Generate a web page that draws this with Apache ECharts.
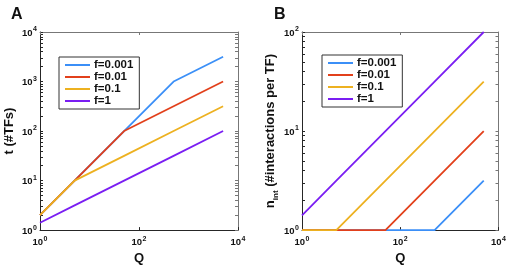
<!DOCTYPE html>
<html>
<head>
<meta charset="utf-8">
<script src="https://cdn.jsdelivr.net/npm/echarts@6/dist/echarts.min.js"></script>
<style>html,body{margin:0;padding:0;background:#fff}#c{width:509px;height:270px}</style>
</head>
<body>
<div id="c"></div>
<script>
// Data (kink points; lines are straight on log-log between them)
const Q = [1, 5, 50, 500, 5000];
const seriesNames = ['f=0.001', 'f=0.01', 'f=0.1', 'f=1'];
// Panel A: t (#TFs)
const tA_f0001 = [2, 10, 100, 1000, 3162];
const tA_f001  = [2, 10, 100, 316, 1000];
const tA_f01   = [2, 10, 31.6, 100, 316];
const tA_f1    = [1.41, 3.16, 10, 31.6, 100];
// Panel B: n_int (#interactions per TF)
const nB_f0001 = [1, 1, 1, 1, 3.16];
const nB_f001  = [1, 1, 1, 3.16, 10];
const nB_f01   = [1, 1, 3.16, 10, 31.6];
const nB_f1    = [1.41, 3.16, 10, 31.6, 100];
const colors = ['#3B8FF7', '#E2401B', '#EDB120', '#7A1EF2'];
// tick labels
const xTicks = [1, 100, 10000];
const yTicksA = [1, 10, 100, 1000, 10000];
const yTicksB = [1, 10, 100];

function minorTicks(maxExp) {
  const out = [];
  for (let e = 0; e < maxExp; e++) for (let m = 1; m <= 9; m++) out.push(m * Math.pow(10, e));
  out.push(Math.pow(10, maxExp));
  return out;
}
const fmt = v => '{b|10}{s|' + Math.round(Math.log10(v)) + '}';
const labRich = {
  b: {fontSize: 9.5, fontWeight: 'bold', color: '#111', fontFamily: 'Liberation Sans', lineHeight: 12, verticalAlign: 'bottom'},
  s: {fontSize: 7, fontWeight: 'bold', color: '#111', fontFamily: 'Liberation Sans', lineHeight: 12, verticalAlign: 'top', padding: [0, 0, 0, 0.5]}
};
const dark = '#262626', grey = '#777';

function axisPair(kind, gi, maxExp, labels, tickVals, nameCfg) {
  const main = {
    type: 'log', logBase: 10, gridIndex: gi, min: 1, max: Math.pow(10, maxExp),
    position: kind === 'x' ? 'bottom' : 'left',
    axisLine: {lineStyle: {color: dark, width: 1}},
    axisTick: {inside: true, length: 3, customValues: tickVals, lineStyle: {color: dark}},
    minorTick: {show: false},
    axisLabel: {customValues: labels, formatter: fmt, rich: labRich, margin: kind === 'x' ? 5 : 3, showMinLabel: true, showMaxLabel: true},
    splitLine: {show: false}
  };
  Object.assign(main, nameCfg);
  const other = {
    type: 'log', logBase: 10, gridIndex: gi, min: 1, max: Math.pow(10, maxExp),
    position: kind === 'x' ? 'top' : 'right',
    axisLine: {lineStyle: {color: grey, width: 1}},
    axisTick: {inside: true, length: 3, customValues: tickVals, lineStyle: {color: grey}},
    axisLabel: {show: false}, splitLine: {show: false}
  };
  return [main, other];
}

const nameStyle = {fontSize: 13, fontWeight: 'bold', color: '#111', fontFamily: 'Liberation Sans'};

const xA = axisPair('x', 0, 4, xTicks, xTicks, {name: 'Q', nameLocation: 'middle', nameGap: 20, nameTextStyle: nameStyle});
const yA = axisPair('y', 0, 4, yTicksA, minorTicks(4), {name: 't (#TFs)', nameLocation: 'middle', nameGap: 24, nameTextStyle: nameStyle});
const xB = axisPair('x', 1, 4, xTicks, xTicks, {name: 'Q', nameLocation: 'middle', nameGap: 20, nameTextStyle: nameStyle});
const yB = axisPair('y', 1, 2, yTicksB, minorTicks(2), {name: '{b|n}{s|int}{b| (#interactions per TF)}', nameLocation: 'middle', nameGap: 22,
  nameTextStyle: Object.assign({}, nameStyle, {rich: {
    b: {fontSize: 13, fontWeight: 'bold', color: '#111', fontFamily: 'Liberation Sans', lineHeight: 16, verticalAlign: 'bottom'},
    s: {fontSize: 8, fontWeight: 'bold', color: '#111', fontFamily: 'Liberation Sans', lineHeight: 16, verticalAlign: 'bottom', padding: [0, 0, -3, 0]}
  }})});

function mk(name, data, i, xi, yi) {
  return {name, type: 'line', xAxisIndex: xi, yAxisIndex: yi, data: Q.map((q, k) => [q, data[k]]),
    symbol: 'none', showSymbol: false, lineStyle: {width: 1.8, color: colors[i]}, itemStyle: {color: colors[i]}, z: 2 + i, animation: false};
}
const dataA = [tA_f0001, tA_f001, tA_f01, tA_f1];
const dataB = [nB_f0001, nB_f001, nB_f01, nB_f1];
const series = [];
dataA.forEach((d, i) => series.push(mk(seriesNames[i], d, i, 0, 0)));
dataB.forEach((d, i) => series.push(mk(seriesNames[i], d, i, 2, 2)));

const legendBase = {
  orient: 'vertical', icon: 'rect', itemWidth: 25, itemHeight: 2, itemGap: 0,
  backgroundColor: '#fff', borderColor: '#333', borderWidth: 1, borderRadius: 0, padding: [2, 6, 2, 6],
  textStyle: {fontSize: 11.5, fontWeight: 'bold', color: '#111', fontFamily: 'Liberation Sans', lineHeight: 12, padding: [0, 0, 0, -1]},
  data: seriesNames, selectedMode: false
};

const option = {
  animation: false,
  grid: [
    {left: 40, top: 32, width: 198, height: 200, show: false},
    {left: 302, top: 32, width: 199, height: 199, show: false}
  ],
  title: [
    {text: 'A', left: 6, top: 2, textStyle: {fontSize: 16, fontWeight: 'bold', color: '#111', fontFamily: 'Liberation Sans'}},
    {text: 'B', left: 269, top: 2, textStyle: {fontSize: 16, fontWeight: 'bold', color: '#111', fontFamily: 'Liberation Sans'}}
  ],
  legend: [
    Object.assign({}, legendBase, {left: 59, top: 57}),
    Object.assign({}, legendBase, {left: 322, top: 55})
  ],
  xAxis: [xA[0], xA[1], xB[0], xB[1]],
  yAxis: [yA[0], yA[1], yB[0], yB[1]],
  series
};
const chart = echarts.init(document.getElementById('c'), null, {renderer: 'canvas'});
chart.setOption(option);
</script>
</body>
</html>
